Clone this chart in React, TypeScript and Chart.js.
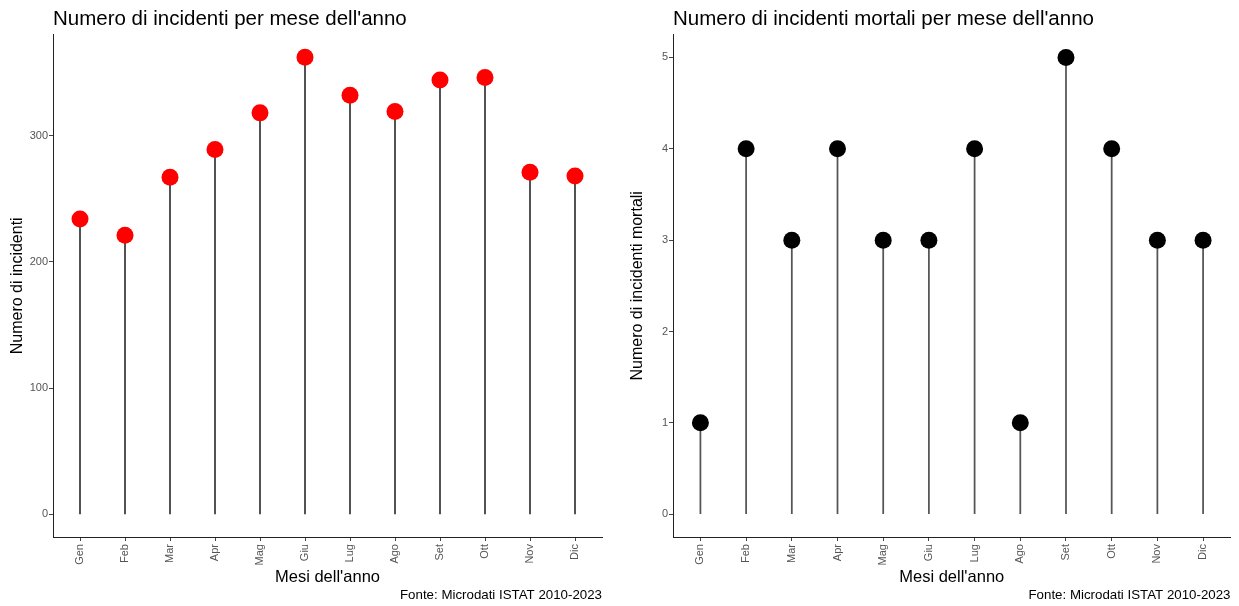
import React, { useEffect, useRef } from 'react';
import { Chart, registerables } from 'chart.js';

Chart.register(...registerables);

const mesi = ['Gen', 'Feb', 'Mar', 'Apr', 'Mag', 'Giu', 'Lug', 'Ago', 'Set', 'Ott', 'Nov', 'Dic'];
const incidenti = [234, 221, 267, 289, 318, 362, 332, 319, 344, 346, 271, 268];
const mortali = [1, 4, 3, 4, 3, 3, 4, 1, 5, 4, 3, 3];
const ticksIncidenti = [0, 100, 200, 300];
const ticksMortali = [0, 1, 2, 3, 4, 5];
const caption = 'Fonte: Microdati ISTAT 2010-2023';

const FONT = "'Liberation Sans', Arial, sans-serif";

type Cfg = {
  title: string;
  yTitle: string;
  values: number[];
  yTicks: number[];
  yMin: number;
  yMax: number;
  pointColor: string;
  stemColor: string;
  padRight: number;
};

function buildConfig(c: Cfg): any {
  const pts = c.values.map((v, i) => ({ x: i, y: v }));
  return {
    type: 'bar',
    data: {
      datasets: [
        {
          type: 'scatter',
          data: pts,
          pointRadius: 8.5,
          pointHoverRadius: 8.5,
          backgroundColor: c.pointColor,
          borderWidth: 0,
          order: 0,
        },
        {
          type: 'bar',
          data: pts,
          backgroundColor: c.stemColor,
          borderWidth: 0,
          barThickness: 1.1,
          order: 1,
        },
      ],
    },
    options: {
      responsive: false,
      animation: false,
      events: [],
      layout: { padding: { left: 8, right: c.padRight, top: 0, bottom: 0 } },
      plugins: {
        legend: { display: false },
        tooltip: { enabled: false },
        title: {
          display: true,
          text: c.title,
          align: 'start',
          fullSize: false,
          color: '#000',
          font: { family: FONT, size: 20.5, weight: 'normal' },
          padding: { top: 7, bottom: 3 },
        },
        subtitle: {
          display: true,
          text: caption,
          position: 'bottom',
          align: 'end',
          fullSize: false,
          color: '#000',
          font: { family: FONT, size: 13.3, weight: 'normal' },
          padding: { top: 0, bottom: 3 },
        },
      },
      scales: {
        x: {
          type: 'linear',
          min: -0.6,
          max: 11.6,
          offset: false,
          afterBuildTicks: (axis: any) => {
            axis.ticks = mesi.map((_, i) => ({ value: i }));
          },
          afterFit: (axis: any) => {
            axis.height = 50;
          },
          ticks: {
            autoSkip: false,
            maxRotation: 90,
            minRotation: 90,
            padding: 3,
            color: '#555',
            font: { family: FONT, size: 11 },
            callback: (v: any) => mesi[Math.round(Number(v))],
          },
          grid: { offset: false, drawOnChartArea: false, drawTicks: true, tickLength: 4, color: '#444' },
          border: { display: true, color: '#222', width: 1 },
          title: {
            display: true,
            text: "Mesi dell'anno",
            color: '#000',
            font: { family: FONT, size: 16.5 },
            padding: { top: 0, bottom: 0 },
          },
        },
        y: {
          type: 'linear',
          min: c.yMin,
          max: c.yMax,
          afterBuildTicks: (axis: any) => {
            axis.ticks = c.yTicks.map((v) => ({ value: v }));
          },
          afterFit: (axis: any) => {
            axis.width = 45;
          },
          ticks: {
            padding: 1,
            color: '#555',
            font: { family: FONT, size: 11 },
            callback: (v: any) => String(v),
          },
          grid: { drawOnChartArea: false, drawTicks: true, tickLength: 4, color: '#444' },
          border: { display: true, color: '#222', width: 1 },
          title: {
            display: true,
            text: c.yTitle,
            color: '#000',
            font: { family: FONT, size: 16 },
            padding: { top: 0, bottom: 0 },
          },
        },
      },
    },
  };
}

function Panel(props: { cfg: Cfg; width: number; left: number }) {
  const ref = useRef<HTMLCanvasElement | null>(null);
  useEffect(() => {
    if (!ref.current) return;
    const chart = new Chart(ref.current, buildConfig(props.cfg));
    return () => chart.destroy();
  }, []);
  return (
    <canvas
      ref={ref}
      width={props.width}
      height={606}
      style={{ position: 'absolute', left: props.left, top: 0, width: props.width, height: 606 }}
    />
  );
}

export default function App() {
  const left: Cfg = {
    title: 'Numero di incidenti per mese dell\'anno',
    yTitle: 'Numero di incidenti',
    values: incidenti,
    yTicks: ticksIncidenti,
    yMin: -18,
    yMax: 380,
    pointColor: '#ff0000',
    stemColor: '#3c3c3c',
    padRight: 18,
  };
  const right: Cfg = {
    title: 'Numero di incidenti mortali per mese dell\'anno',
    yTitle: 'Numero di incidenti mortali',
    values: mortali,
    yTicks: ticksMortali,
    yMin: -0.25,
    yMax: 5.25,
    pointColor: '#000000',
    stemColor: '#555555',
    padRight: 1,
  };
  return (
    <div style={{ position: 'absolute', left: 0, top: 0, width: 1239, height: 606, background: '#fff' }}>
      <Panel cfg={left} width={620} left={0} />
      <Panel cfg={right} width={619} left={620} />
    </div>
  );
}
